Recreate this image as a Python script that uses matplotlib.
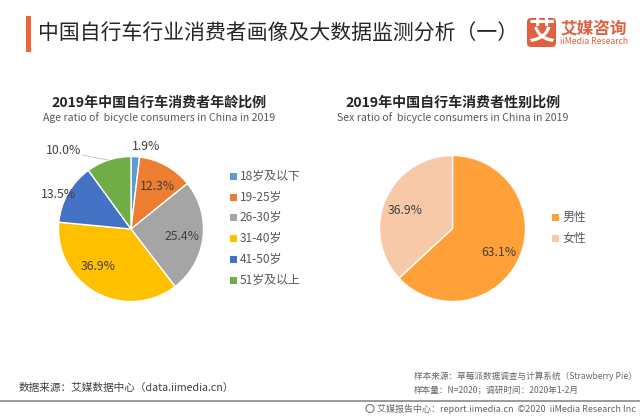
import matplotlib
matplotlib.use("Agg")
import matplotlib.pyplot as plt
from matplotlib.patches import Circle, FancyBboxPatch, Rectangle

plt.rcParams['font.family'] = ['Noto Sans CJK SC', 'DejaVu Sans']

W, H = 640, 416

age_labels = ["18岁及以下", "19-25岁", "26-30岁", "31-40岁", "41-50岁", "51岁及以上"]
age_values = [1.9, 12.3, 25.4, 36.9, 13.5, 10.0]
age_colors = ["#5B9BD5", "#ED7D31", "#A5A5A5", "#FFC000", "#4472C4", "#70AD47"]

sex_labels = ["男性", "女性"]
sex_values = [63.1, 36.9]
sex_colors = ["#FFA038", "#F7C9A9"]

title = "中国自行车行业消费者画像及大数据监测分析（一）"
age_title = "2019年中国自行车消费者年龄比例"
age_sub = "Age ratio of  bicycle consumers in China in 2019"
sex_title = "2019年中国自行车消费者性别比例"
sex_sub = "Sex ratio of  bicycle consumers in China in 2019"

TEXT = "#404040"
GREY = "#595959"

fig = plt.figure(figsize=(W / 100, H / 100), dpi=100, facecolor="white")

# overlay in pixel coords, y going down like the screenshot
bg = fig.add_axes([0, 0, 1, 1])
bg.set_xlim(0, W)
bg.set_ylim(H, 0)
bg.axis("off")


def draw_pie(cx, cy, r, values, colors):
    ax = fig.add_axes([(cx - r) / W, 1 - (cy + r) / H, 2 * r / W, 2 * r / H])
    ax.pie(values, colors=colors, startangle=90, counterclock=False, radius=1.0,
           wedgeprops={"edgecolor": "white", "linewidth": 1.0})
    ax.set_xlim(-1, 1)
    ax.set_ylim(-1, 1)
    ax.patch.set_alpha(0)


def draw_legend(x, ys, labels, colors):
    for y, lab, col in zip(ys, labels, colors):
        bg.add_patch(Rectangle((x, y - 3.5), 7, 7, color=col, lw=0))
        bg.text(x + 10, y, lab, fontsize=8.6, color=GREY, va="center", ha="left")


# ── header ───────────────────────────────────────────────────────────────
bg.add_patch(Rectangle((25.5, 16), 5.5, 36, color="#F0643A", lw=0))
bg.text(38, 33.5, title, fontsize=15, color="#262626", va="center", ha="left")

bg.add_patch(FancyBboxPatch((527, 18), 29, 29, boxstyle="round,pad=0,rounding_size=4",
                            color="#E0603F", lw=0))
bg.text(541.5, 32, "艾", fontsize=19, fontweight="bold", color="white", va="center", ha="center")
bg.text(594, 29, "艾媒咨询", fontsize=12, fontweight="bold", color="#E0603F", va="center", ha="center")
bg.text(594.5, 42, "iiMedia Research", fontsize=6.2, color="#E0603F", va="center", ha="center")

# ── sub titles ───────────────────────────────────────────────────────────
bg.text(159, 103, age_title, fontsize=10.1, fontweight="bold", color="#262626", va="center", ha="center")
bg.text(159, 118, age_sub, fontsize=7.6, color=GREY, va="center", ha="center")
bg.text(453, 103, sex_title, fontsize=10.1, fontweight="bold", color="#262626", va="center", ha="center")
bg.text(453, 118, sex_sub, fontsize=7.6, color=GREY, va="center", ha="center")

# ── pies ─────────────────────────────────────────────────────────────────
draw_pie(131, 229, 72.5, age_values, age_colors)
draw_pie(452.5, 228.5, 73, sex_values, sex_colors)

# labels sit above the pies
top = fig.add_axes([0, 0, 1, 1])
top.set_xlim(0, W)
top.set_ylim(H, 0)
top.axis("off")
top.patch.set_alpha(0)

age_pos = [(146, 147), (157, 186), (182, 237), (98, 267), (58, 195), (64, 151)]
for (x, y), v in zip(age_pos, age_values):
    top.text(x, y, f"{v:.1f}%", fontsize=8.8, color=TEXT, va="center", ha="center")
top.plot([82, 108], [155, 160], color="#BFBFBF", lw=0.6)

sex_pos = [(499, 253), (405, 210)]
for (x, y), v in zip(sex_pos, sex_values):
    top.text(x, y, f"{v:.1f}%", fontsize=8.8, color=TEXT, va="center", ha="center")

draw_legend(230, [176, 197, 217, 238, 259, 280], age_labels, age_colors)
draw_legend(552, [217, 238], sex_labels, sex_colors)

# ── footer ───────────────────────────────────────────────────────────────
bg.text(19, 388, "数据来源：艾媒数据中心（data.iimedia.cn）", fontsize=7.65, color=TEXT, va="center", ha="left")
bg.text(414, 376, "样本来源：草莓派数据调查与计算系统（Strawberry Pie）", fontsize=6.2, color="#666666", va="center", ha="left")
bg.text(414, 390, "样本量：N=2020；调研时间：2020年1-2月", fontsize=6.2, color="#666666", va="center", ha="left")
bg.plot([0, W], [400.5, 400.5], color="#9A9A9A", lw=1.4)
bg.add_patch(Circle((370, 408.5), 4, fill=False, ec="#777777", lw=0.8))
bg.text(636, 408.5, "艾媒报告中心：report.iimedia.cn  ©2020  iiMedia Research Inc",
        fontsize=6.5, color="#666666", va="center", ha="right")

fig.savefig("out.png", dpi=100)
